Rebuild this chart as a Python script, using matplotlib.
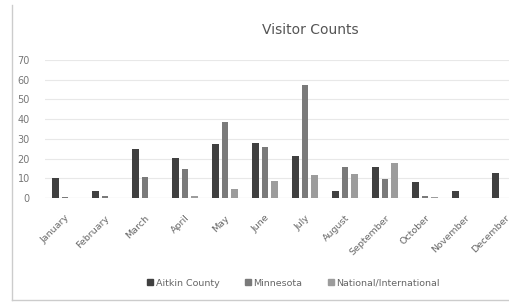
import matplotlib
matplotlib.use("Agg")
import matplotlib.pyplot as plt
import numpy as np
from matplotlib.lines import Line2D

months = ["January", "February", "March", "April", "May", "June", "July",
          "August", "September", "October", "November", "December"]
aitkin = [10, 3.5, 25, 20.5, 27.5, 28, 21.5, 3.5, 15.5, 8, 3.5, 12.5]
minnesota = [0.5, 1, 10.7, 14.7, 38.6, 25.7, 57.4, 15.6, 9.6, 1, 0, 0]
national = [0, 0, 0, 1, 4.5, 8.6, 11.6, 12, 18, 0.5, 0, 0]
series_names = ["Aitkin County", "Minnesota", "National/International"]
yticks = [0, 10, 20, 30, 40, 50, 60, 70]

W, H = 510, 308
fig = plt.figure(figsize=(W / 100, H / 100), dpi=100)
fig.patch.set_facecolor("white")

# axes: x from 45px to 525px, y from 198px (0) to 60px (70)
ax = fig.add_axes([45 / W, (H - 198) / H, 480 / W, 138 / H])
x = np.arange(len(months))
bw = 0.17
off = 0.24
colors = ["#404040", "#7a7a7a", "#9c9c9c"]
for i, (vals, c) in enumerate(zip([aitkin, minnesota, national], colors)):
    ax.bar(x + (i - 1) * off, vals, width=bw, color=c, zorder=3)

ax.set_xlim(-0.5, 11.5)
ax.set_ylim(0, 70)
ax.set_yticks(yticks)
ax.set_yticklabels([str(t) for t in yticks], fontsize=7, color="#777777")
ax.yaxis.grid(True, color="#e8e8e8", linewidth=0.8, zorder=0)
ax.set_xticks(x)
ax.set_xticklabels(months, rotation=45, ha="right", rotation_mode="anchor",
                   fontsize=6.8, color="#666666")
ax.tick_params(axis="y", length=0, pad=11)
ax.tick_params(axis="x", length=0, pad=11)
for s in ax.spines.values():
    s.set_visible(False)
ax.axhline(0, color="#d0d0d0", linewidth=0.8, zorder=2)

fig.text(310 / W, 1 - 30 / H, "Visitor Counts", ha="center", va="center",
         fontsize=10, color="#555555")

handles = [Line2D([0], [0], marker="s", linestyle="none", markersize=4,
                  markerfacecolor=c, markeredgecolor=c) for c in colors]
fig.legend(handles, series_names, loc="center", bbox_to_anchor=(293 / W, 1 - 283 / H),
           ncol=3, frameon=False, fontsize=6.8, labelcolor="#666666",
           handletextpad=0.2, columnspacing=2.6, handlelength=0.8)

# outer chart border
fig.add_artist(Line2D([12 / W, 12 / W], [1 - 300 / H, 1 - 5 / H], color="#cccccc", linewidth=1))
fig.add_artist(Line2D([12 / W, 1], [1 - 300 / H, 1 - 300 / H], color="#cccccc", linewidth=1))

fig.savefig("out.png", dpi=100)
